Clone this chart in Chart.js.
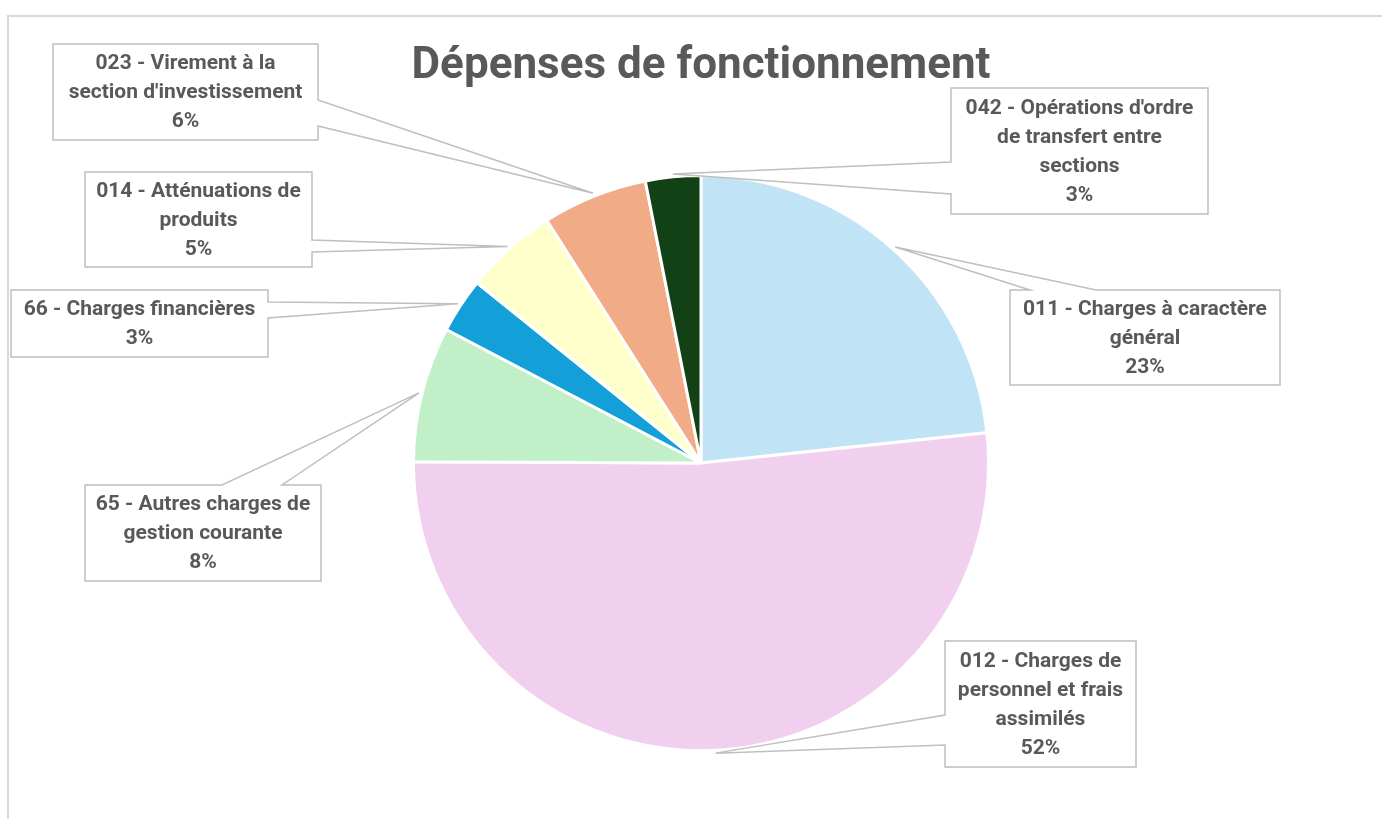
<!DOCTYPE html>
<html>
<head>
<meta charset="utf-8">
<script src="https://cdn.jsdelivr.net/npm/chart.js@4.4.1/dist/chart.umd.min.js"></script>
<style>
  html, body { margin: 0; padding: 0; background: #fff; overflow: hidden; }
  canvas { display: block; }
</style>
</head>
<body>
<canvas id="graphique" width="1382" height="819"></canvas>
<script>
const titre = 'Dépenses de fonctionnement';

const categories = [
  ['011 - Charges à caractère', 'général'],
  ['012 - Charges de', 'personnel et frais', 'assimilés'],
  ['65 - Autres charges de', 'gestion courante'],
  ['66 - Charges financières'],
  ['014 - Atténuations de', 'produits'],
  ['023 - Virement à la', 'section d\'investissement'],
  ['042 - Opérations d\'ordre', 'de transfert entre', 'sections']
];
const montants = [23.3, 51.7, 7.6, 3.1, 5.2, 5.9, 3.1];
const couleurs = ['#C0E4F5', '#F1CFEF', '#C1F0C8', '#139FD8', '#FFFFCC', '#F1AB87', '#124116'];

// placement des bulles d'étiquettes (mise en page, pas des données)
const bulles = [
  { x: 1010, y: 290, w: 270, h: 95,  cote: 'haut',   a: 20,  b: 86 },
  { x: 945,  y: 641, w: 191, h: 126, cote: 'gauche', a: 74,  b: 104 },
  { x: 85,   y: 485, w: 236, h: 96,  cote: 'haut',   a: 137, b: 197 },
  { x: 11,   y: 290, w: 257, h: 67,  cote: 'droite', a: 12,  b: 28 },
  { x: 85,   y: 172, w: 227, h: 95,  cote: 'droite', a: 68,  b: 80 },
  { x: 53,   y: 44,  w: 265, h: 96,  cote: 'droite', a: 56,  b: 82 },
  { x: 951,  y: 88,  w: 257, h: 126, cote: 'gauche', a: 74,  b: 106 }
];

const gris = '#595959';
const total = montants.reduce((s, v) => s + v, 0);

// cadre + titre
const cadre = {
  id: 'cadre',
  beforeDraw(chart) {
    const c = chart.ctx;
    c.save();
    c.fillStyle = '#fff';
    c.fillRect(0, 0, chart.width, chart.height);
    c.strokeStyle = '#D9D9D9';
    c.lineWidth = 2;
    c.strokeRect(8, 16, chart.width + 20, chart.height + 20);
    c.fillStyle = gris;
    c.font = 'bold 44px Roboto, "Liberation Sans", sans-serif';
    c.textAlign = 'center';
    c.textBaseline = 'middle';
    c.fillText(titre, 701, 67);
    c.restore();
  }
};

// bulles avec pointe vers la part
const etiquettes = {
  id: 'etiquettes',
  afterDraw(chart) {
    const c = chart.ctx;
    const arcs = chart.getDatasetMeta(0).data;
    arcs.forEach((arc, i) => {
      const b = bulles[i];
      const mid = (arc.startAngle + arc.endAngle) / 2;
      const r = arc.outerRadius + 3;
      const px = arc.x + Math.cos(mid) * r;
      const py = arc.y + Math.sin(mid) * r;

      c.save();
      c.beginPath();
      if (b.cote === 'droite') {
        c.moveTo(b.x, b.y);
        c.lineTo(b.x + b.w, b.y);
        c.lineTo(b.x + b.w, b.y + b.a);
        c.lineTo(px, py);
        c.lineTo(b.x + b.w, b.y + b.b);
        c.lineTo(b.x + b.w, b.y + b.h);
        c.lineTo(b.x, b.y + b.h);
      } else if (b.cote === 'gauche') {
        c.moveTo(b.x, b.y);
        c.lineTo(b.x + b.w, b.y);
        c.lineTo(b.x + b.w, b.y + b.h);
        c.lineTo(b.x, b.y + b.h);
        c.lineTo(b.x, b.y + b.b);
        c.lineTo(px, py);
        c.lineTo(b.x, b.y + b.a);
      } else {
        c.moveTo(b.x, b.y);
        c.lineTo(b.x + b.a, b.y);
        c.lineTo(px, py);
        c.lineTo(b.x + b.b, b.y);
        c.lineTo(b.x + b.w, b.y);
        c.lineTo(b.x + b.w, b.y + b.h);
        c.lineTo(b.x, b.y + b.h);
      }
      c.closePath();
      c.fillStyle = '#fff';
      c.fill();
      c.strokeStyle = '#BFBFBF';
      c.lineWidth = 1.5;
      c.stroke();

      const lignes = categories[i].concat([Math.round(montants[i] / total * 100) + '%']);
      c.fillStyle = gris;
      c.textAlign = 'center';
      c.textBaseline = 'middle';
      c.font = 'bold 21px Roboto, "Liberation Sans", sans-serif';
      const lh = 29;
      const y0 = b.y + b.h / 2 - (lignes.length - 1) * lh / 2 + 1;
      lignes.forEach((t, k) => {
        const larg = c.measureText(t).width;
        const maxi = b.w - 12;
        const cx = b.x + b.w / 2;
        if (larg > maxi) {
          // resserrer légèrement si la ligne déborde
          c.save();
          c.translate(cx, 0);
          c.scale(maxi / larg, 1);
          c.fillText(t, 0, y0 + k * lh);
          c.restore();
        } else {
          c.fillText(t, cx, y0 + k * lh);
        }
      });
      c.restore();
    });
  }
};

const ctx = document.getElementById('graphique').getContext('2d');

new Chart(ctx, {
  type: 'pie',
  data: {
    labels: categories,
    datasets: [{
      data: montants,
      backgroundColor: couleurs,
      borderColor: '#fff',
      borderWidth: 3
    }]
  },
  options: {
    responsive: false,
    animation: false,
    layout: { padding: { left: 412, right: 392, top: 174, bottom: 67 } },
    plugins: {
      legend: { display: false },
      tooltip: { enabled: false }
    }
  },
  plugins: [cadre, etiquettes]
});
</script>
</body>
</html>
